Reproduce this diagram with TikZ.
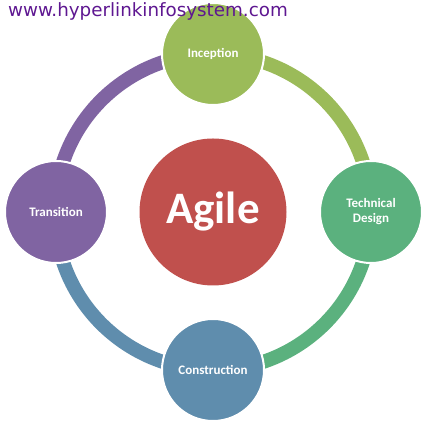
\documentclass[tikz,border=0pt]{standalone}
\usepackage{fontspec}
\setmainfont{Carlito}
\newfontfamily\urlfont{DejaVu Sans}
\definecolor{cInc}{HTML}{9BBB59}
\definecolor{cTec}{HTML}{5BB17E}
\definecolor{cCon}{HTML}{5F8DAD}
\definecolor{cTra}{HTML}{8064A2}
\definecolor{cAgi}{HTML}{C0504D}
\definecolor{cUrl}{HTML}{5E1791}
\tikzset{
  phase/.style={circle, minimum size=102pt, inner sep=0pt, draw=white, line width=2pt,
    text=white, font=\fontsize{13}{15}\selectfont\bfseries, align=center},
  ring/.style={line width=14pt}
}
\begin{document}
\begin{tikzpicture}[x=1pt,y=1pt]
\useasboundingbox (0,0) rectangle (426,425);
\coordinate (c) at (213,213);
% ring arcs
\draw[ring, cInc] (213,371) arc[start angle=90, end angle=0, radius=158];
\draw[ring, cTec] (371,213) arc[start angle=0, end angle=-90, radius=158];
\draw[ring, cCon] (213,55) arc[start angle=-90, end angle=-180, radius=158];
\draw[ring, cTra] (55,213) arc[start angle=180, end angle=90, radius=158];
% nodes
\node[phase, fill=cInc] (inc) at (213,371) {Inception};
\node[phase, fill=cTec] (tec) at (371,213) {Technical\\Design};
\node[phase, fill=cCon] (con) at (213,55) {Construction};
\node[phase, fill=cTra] (tra) at (56,213) {Transition};
\node[circle, minimum size=147pt, inner sep=0pt, fill=cAgi, text=white,
  font=\fontsize{45}{50}\selectfont\bfseries] (agile) at (c) {Agile};
\node[anchor=base west, inner sep=0pt, text=cUrl, font=\urlfont\fontsize{18.3}{22}\selectfont] (url) at (8,408) {www.hyperlinkinfosystem.com};
\end{tikzpicture}
\end{document}
